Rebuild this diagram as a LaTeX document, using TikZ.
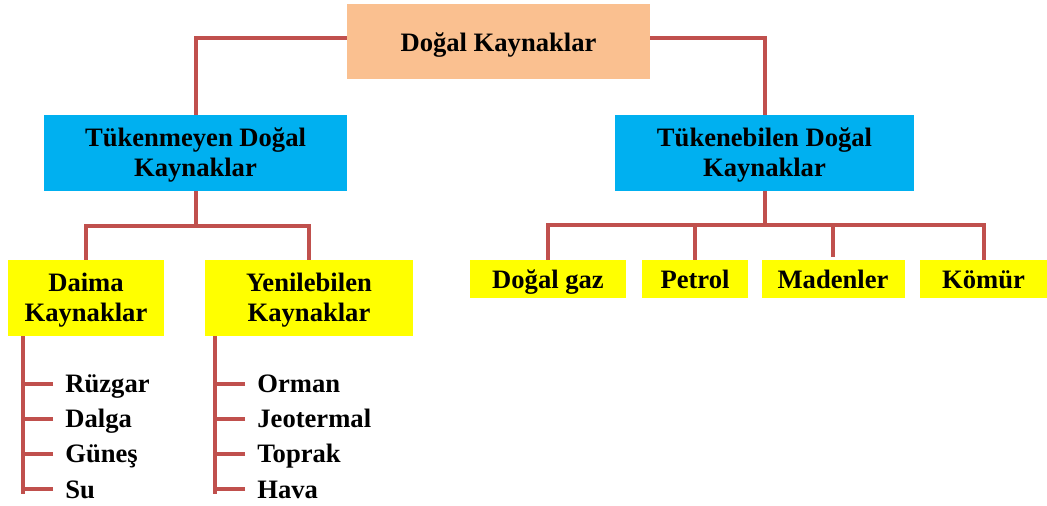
\documentclass[tikz,border=0pt]{standalone}
\usepackage{fontspec}
\setmainfont{Liberation Serif}
\usepackage{xcolor}
\usetikzlibrary{positioning,calc}
\definecolor{linkred}{HTML}{C0504D}
\definecolor{peach}{HTML}{FAC090}
\definecolor{skyblue}{HTML}{00B0F0}
\definecolor{lemon}{HTML}{FFFF00}
\tikzset{
  kaynak/.style={align=center,inner sep=0pt,text height=10pt,text depth=0pt,
    font=\fontsize{13.3}{15}\selectfont\bfseries},
  twoline/.style={text height=25pt,text depth=1pt},
  rootbox/.style={kaynak,fill=peach,minimum width=151.5pt,minimum height=37.5pt},
  groupbox/.style={kaynak,twoline,fill=skyblue,minimum height=38pt},
  leafbox/.style={kaynak,fill=lemon},
  item/.style={font=\fontsize{13.3}{15}\selectfont\bfseries,inner sep=0pt,anchor=base west},
  link/.style={draw=linkred,line width=2pt}
}

\begin{document}
\begin{tikzpicture}[x=0.5pt,y=-0.5pt]
  \useasboundingbox (0,0) rectangle (1047,506);
  \node[rootbox] (root) at (498.5,41.5) {Doğal Kaynaklar};
  \node[groupbox,minimum width=151.5pt] (tkm) at (195.5,153) {Tükenmeyen Doğal\\Kaynaklar};
  \node[groupbox,minimum width=149.5pt] (tkb) at (764.5,153) {Tükenebilen Doğal\\Kaynaklar};
  \node[leafbox,twoline,minimum width=78pt,minimum height=38pt] (daima) at (86,298) {Daima\\Kaynaklar};
  \node[leafbox,twoline,minimum width=104pt,minimum height=38pt] (yeni) at (309,298) {Yenilebilen\\Kaynaklar};
  \foreach \nm/\txt/\x/\w in {gaz/Doğal gaz/548/78pt, petrol/Petrol/695/53pt,
                              maden/Madenler/833/71.5pt, komur/Kömür/983.5/63.5pt}
    \node[leafbox,minimum width=\w,minimum height=19pt] (\nm) at (\x,279) {\txt};

  % top level
  \draw[link] ([yshift=1.75pt]root.west) -| (tkm.north);
  \draw[link] ([yshift=1.75pt]root.east) -| (tkb.north);

  % left branch
  \coordinate (lj) at ($(tkm.south)+(0,35)$);
  \draw[link] (tkm.south) -- (lj);
  \draw[link] (lj) -| (daima.north);
  \draw[link] (lj) -| (yeni.north);

  % right branch
  \coordinate (rj) at ($(tkb.south)+(0,34)$);
  \draw[link] (tkb.south) -- (rj);
  \foreach \nm in {gaz,petrol,komur}
    \draw[link] (rj) -| (\nm.north);
  \draw[link] (rj) -| ([yshift=1.5pt]maden.north);

  % lists
  \coordinate (dl) at ($(daima.south west)+(15,0)$);
  \foreach \nm/\txt/\y in {ruz/Rüzgar/393, dal/Dalga/428, gun/Güneş/463, su/Su/498} {
    \node[item] (\nm) at (65,\y) {\txt};
    \draw[link] ($(\nm.base west)+(-12,-9)$) -- ($(\nm.base west -| dl)+(0,-9)$);
  }
  \draw[link] (daima.south -| dl) -- ($(su.base west -| dl)+(0,-4)$);

  \coordinate (yl) at ($(yeni.south west)+(10,0)$);
  \foreach \nm/\txt/\y in {orm/Orman/393, jeo/Jeotermal/428, top/Toprak/463, hav/Hava/498} {
    \node[item] (\nm) at (257,\y) {\txt};
    \draw[link] ($(\nm.base west)+(-12,-9)$) -- ($(\nm.base west -| yl)+(0,-9)$);
  }
  \draw[link] (yeni.south -| yl) -- ($(hav.base west -| yl)+(0,-4)$);
\end{tikzpicture}
\end{document}
